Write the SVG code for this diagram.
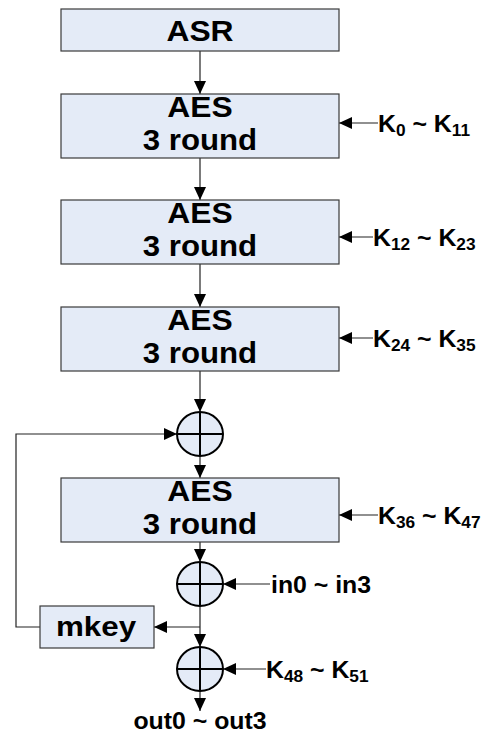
<svg xmlns="http://www.w3.org/2000/svg" width="486" height="734" viewBox="0 0 486 734">
  <defs>
    <marker id="arrow" viewBox="0 0 13 12" refX="13" refY="6" markerWidth="13" markerHeight="12" markerUnits="userSpaceOnUse" orient="auto">
      <path d="M0,0 L13,6 L0,12 Z" fill="#000"/>
    </marker>
    <style>
      .box { fill: #e4ebf7; stroke: #3a3a3a; stroke-width: 1.2; }
      .xor { fill: #e4ebf7; stroke: #000; stroke-width: 2; }
      .cross { stroke: #000; stroke-width: 2; }
      .big { font-family: "Liberation Sans", Arial, sans-serif; font-weight: bold; font-size: 30px; fill: #000; }
      .mid { font-family: "Liberation Sans", Arial, sans-serif; font-weight: bold; font-size: 28px; fill: #000; }
      .lbl { font-family: "Liberation Sans", Arial, sans-serif; font-weight: bold; font-size: 23px; fill: #000; }
      .sub { font-size: 16px; }
      .wire { fill: none; stroke: #222; stroke-width: 1.2; }
    </style>
  </defs>

  <rect width="486" height="734" fill="#fff"/>

  <g id="connectors">
    <line class="wire" x1="200" y1="51" x2="200" y2="94" marker-end="url(#arrow)"/>
    <line class="wire" x1="200" y1="158" x2="200" y2="200" marker-end="url(#arrow)"/>
    <line class="wire" x1="200" y1="264" x2="200" y2="307" marker-end="url(#arrow)"/>
    <line class="wire" x1="200" y1="371" x2="200" y2="412" marker-end="url(#arrow)"/>
    <line class="wire" x1="200" y1="456" x2="200" y2="478" marker-end="url(#arrow)"/>
    <line class="wire" x1="200" y1="542" x2="200" y2="562" marker-end="url(#arrow)"/>
    <line class="wire" x1="200" y1="606" x2="200" y2="647" marker-end="url(#arrow)"/>
    <line class="wire" x1="200" y1="691" x2="200" y2="711" marker-end="url(#arrow)"/>
    <!-- round keys -->
    <line class="wire" x1="378" y1="123" x2="339" y2="123" marker-end="url(#arrow)"/>
    <line class="wire" x1="373" y1="237" x2="339" y2="237" marker-end="url(#arrow)"/>
    <line class="wire" x1="373" y1="338" x2="339" y2="338" marker-end="url(#arrow)"/>
    <line class="wire" x1="378" y1="515" x2="339" y2="515" marker-end="url(#arrow)"/>
    <!-- inputs to XORs -->
    <line class="wire" x1="270" y1="584" x2="223" y2="584" marker-end="url(#arrow)"/>
    <line class="wire" x1="266" y1="669" x2="223" y2="669" marker-end="url(#arrow)"/>
    <!-- mkey tap and feedback -->
    <line class="wire" x1="200" y1="627" x2="154" y2="627" marker-end="url(#arrow)"/>
    <polyline class="wire" points="40,627 16,627 16,434 177,434" marker-end="url(#arrow)"/>
  </g>

  <g id="asr">
    <rect class="box" x="61" y="9" width="278" height="42"/>
    <text class="big" transform="translate(200,41) scale(1.06,1)" text-anchor="middle">ASR</text>
  </g>

  <g id="aes1">
    <rect class="box" x="61" y="94" width="278" height="64"/>
    <text class="big" transform="translate(200,117) scale(1.06,1)" text-anchor="middle">AES</text>
    <text class="big" transform="translate(200,150) scale(1.04,1)" text-anchor="middle">3 round</text>
  </g>

  <g id="aes2">
    <rect class="box" x="61" y="200" width="278" height="64"/>
    <text class="big" transform="translate(200,223) scale(1.06,1)" text-anchor="middle">AES</text>
    <text class="big" transform="translate(200,256) scale(1.04,1)" text-anchor="middle">3 round</text>
  </g>

  <g id="aes3">
    <rect class="box" x="61" y="307" width="278" height="64"/>
    <text class="big" transform="translate(200,330) scale(1.06,1)" text-anchor="middle">AES</text>
    <text class="big" transform="translate(200,363) scale(1.04,1)" text-anchor="middle">3 round</text>
  </g>

  <g id="xor1">
    <ellipse class="xor" cx="200" cy="434" rx="23" ry="22"/>
    <path class="cross" d="M177,434 H223 M200,412 V456"/>
  </g>

  <g id="aes4">
    <rect class="box" x="61" y="478" width="278" height="64"/>
    <text class="big" transform="translate(200,501) scale(1.06,1)" text-anchor="middle">AES</text>
    <text class="big" transform="translate(200,534) scale(1.04,1)" text-anchor="middle">3 round</text>
  </g>

  <g id="xor2">
    <ellipse class="xor" cx="200" cy="584" rx="23" ry="22"/>
    <path class="cross" d="M177,584 H223 M200,562 V606"/>
  </g>

  <g id="mkey">
    <rect class="box" x="40" y="606" width="114" height="42"/>
    <text class="mid" transform="translate(96,636) scale(1.12,1)" text-anchor="middle">mkey</text>
  </g>

  <g id="xor3">
    <ellipse class="xor" cx="200" cy="669" rx="23" ry="22"/>
    <path class="cross" d="M177,669 H223 M200,647 V691"/>
  </g>

  <g id="labels">
    <text class="lbl" transform="translate(378,132) scale(1.08,1)">K<tspan class="sub" dy="4">0</tspan><tspan dy="-4"> ~ K</tspan><tspan class="sub" dy="4">11</tspan></text>
    <text class="lbl" transform="translate(373,246) scale(1.08,1)">K<tspan class="sub" dy="4">12</tspan><tspan dy="-4"> ~ K</tspan><tspan class="sub" dy="4">23</tspan></text>
    <text class="lbl" transform="translate(373,347) scale(1.08,1)">K<tspan class="sub" dy="4">24</tspan><tspan dy="-4"> ~ K</tspan><tspan class="sub" dy="4">35</tspan></text>
    <text class="lbl" transform="translate(378,524) scale(1.08,1)">K<tspan class="sub" dy="4">36</tspan><tspan dy="-4"> ~ K</tspan><tspan class="sub" dy="4">47</tspan></text>
    <text class="lbl" transform="translate(271,593) scale(1.08,1)">in0 ~ in3</text>
    <text class="lbl" transform="translate(266,678) scale(1.08,1)">K<tspan class="sub" dy="4">48</tspan><tspan dy="-4"> ~ K</tspan><tspan class="sub" dy="4">51</tspan></text>
    <text class="lbl" transform="translate(200,729) scale(1.08,1)" text-anchor="middle">out0 ~ out3</text>
  </g>
</svg>
